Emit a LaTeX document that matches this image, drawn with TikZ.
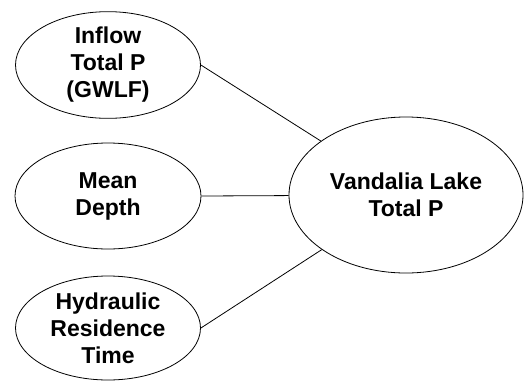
\documentclass[tikz,border=0pt]{standalone}
\usepackage{fontspec}
\setmainfont{Liberation Sans}
\usetikzlibrary{shapes.geometric}
\begin{document}
\begin{tikzpicture}[x=1pt,y=-1pt,
  oval/.style={ellipse,draw,line width=0.8pt,inner sep=0pt,align=center,
    font=\fontsize{23}{27}\selectfont\bfseries},
  link/.style={line width=0.8pt}]
\useasboundingbox (0,0) rectangle (524,381);
\node[oval,minimum width=185pt,minimum height=104pt] (inflow) at (108,65) {Inflow\\Total P\\(GWLF)};
\node[oval,minimum width=186pt,minimum height=106pt] (depth) at (108,196) {Mean\\Depth};
\node[oval,minimum width=185pt,minimum height=104pt] (hrt) at (108,328) {Hydraulic\\Residence\\Time};
\node[oval,minimum width=234pt,minimum height=156pt] (lake) at (406,195) {Vandalia Lake\\Total P};
\draw[link] (inflow.east) -- (lake);
\draw[link] (depth.east) -- (lake);
\draw[link] (hrt.east) -- (lake);
\end{tikzpicture}
\end{document}
